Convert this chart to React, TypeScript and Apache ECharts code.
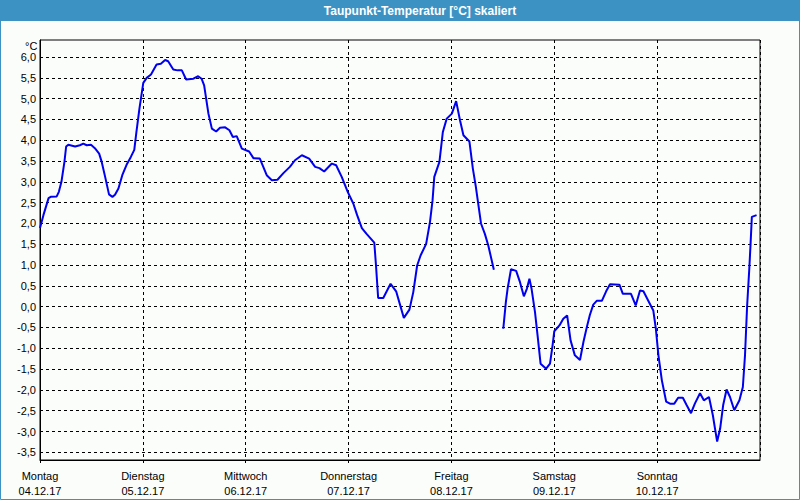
import React, { useEffect, useRef } from "react";
import * as echarts from "echarts";

// hours since Monday 04.12.17 00:00
const hours = [
  0, 0.8, 2, 2.5, 3.9, 4.4, 5, 5.7, 6.1, 6.6,
  8.2, 9.3, 10.1, 10.9, 11.9, 12.8, 13.8, 14.4, 15.2, 16.1,
  16.9, 17.5, 18.3, 19.2, 20.2, 21.2, 22, 22.5, 23.2, 24.1,
  24.9, 25.9, 27.2, 28.2, 29.2, 29.9, 31.1, 32.1, 33.1, 34.1,
  35.8, 36.9, 37.7, 38.3, 39.3, 40.1, 41.1, 42, 43.2, 44.2,
  45, 45.9, 47.1, 48.8, 49.8, 51.3, 52.9, 54.1, 55.4, 56.8,
  58.3, 59.5, 61.1, 62.8, 64.2, 65.2, 66.3, 68.1, 69.1, 70.4,
  71.8, 73.1, 74, 75.1, 76.2, 78, 78.4, 78.9, 80.1, 80.9,
  81.8, 83.1, 84, 84.9, 86.2, 87.1, 88, 88.8, 90.1, 91,
  91.6, 92, 93.2, 94, 94.9, 96.1, 97.1, 98, 98.8, 100.2,
  101, 101.7, 102.9, 103.8, 104.6, 105.9, 107, 108.1, 108.7, 109.1,
  109.9, 111.1, 112, 112.9, 113.6, 114.2, 114.7, 115.5, 116.1, 116.8,
  118.1, 119, 119.6, 120, 121.2, 122.1, 123, 123.8, 124.8, 126,
  126.8, 127.6, 128.3, 129.1, 129.9, 131.1, 132.1, 133, 135.2, 136,
  137.9, 139, 140, 140.8, 141.9, 143.1, 143.7, 144.3, 145.1, 146.1,
  147, 148, 148.9, 150, 150.9, 151.9, 152.8, 154, 154.9, 156.1,
  157, 157.5, 158, 158.7, 159.4, 160.2, 161, 162, 163.2, 164,
  164.5, 165, 165.5, 165.8, 166.1, 167.2,
];

// dew point temperature in °C (null = missing reading)
const dewPoint: (number | null)[] = [
  1.89, 2.2, 2.61, 2.64, 2.65, 2.76, 3.0, 3.48, 3.85, 3.89,
  3.85, 3.88, 3.92, 3.88, 3.89, 3.81, 3.68, 3.48, 3.12, 2.7,
  2.64, 2.69, 2.84, 3.16, 3.41, 3.6, 3.77, 4.2, 4.76, 5.38,
  5.5, 5.58, 5.82, 5.84, 5.93, 5.9, 5.7, 5.68, 5.68, 5.46,
  5.48, 5.54, 5.48, 5.32, 4.64, 4.28, 4.21, 4.3, 4.31, 4.24,
  4.08, 4.1, 3.8, 3.73, 3.57, 3.56, 3.16, 3.04, 3.05, 3.21,
  3.36, 3.52, 3.64, 3.56, 3.36, 3.33, 3.25, 3.44, 3.4, 3.12,
  2.76, 2.48, 2.2, 1.89, 1.75, 1.54, 0.99, 0.21, 0.21, 0.37,
  0.55, 0.37, 0.05, -0.27, -0.07, 0.35, 0.99, 1.23, 1.51, 2.04,
  2.56, 3.12, 3.48, 4.2, 4.52, 4.64, 4.94, 4.48, 4.12, 3.97,
  3.32, 2.88, 2.0, 1.75, 1.47, 0.89, null, -0.53, 0.11, 0.43,
  0.9, 0.86, 0.59, 0.25, 0.43, 0.67, 0.43, -0.13, -0.69, -1.37,
  -1.49, -1.37, -0.93, -0.59, -0.45, -0.29, -0.21, -0.81, -1.17, -1.28,
  -0.85, -0.49, -0.2, 0.05, 0.14, 0.14, 0.37, 0.54, 0.53, 0.31,
  0.31, 0.03, 0.39, 0.37, 0.15, -0.09, -0.53, -1.17, -1.77, -2.28,
  -2.33, -2.33, -2.19, -2.19, -2.37, -2.56, -2.33, -2.08, -2.25, -2.17,
  -2.61, -2.93, -3.24, -2.93, -2.37, -1.99, -2.17, -2.49, -2.25, -1.93,
  -1.17, 0.03, 0.91, 1.51, 2.16, 2.2,
];

const dayNames = ["Montag", "Dienstag", "Mittwoch", "Donnerstag", "Freitag", "Samstag", "Sonntag"];
const dayDates = ["04.12.17", "05.12.17", "06.12.17", "07.12.17", "08.12.17", "09.12.17", "10.12.17"];
const yTicks = [-3.5, -3, -2.5, -2, -1.5, -1, -0.5, 0, 0.5, 1, 1.5, 2, 2.5, 3, 3.5, 4, 4.5, 5, 5.5, 6];

const TITLE = "Taupunkt-Temperatur [°C] skaliert";
const BLUE = "#3d92c4";
const FONT = "'Liberation Sans', Arial, sans-serif";

export default function App() {
  const ref = useRef<HTMLDivElement>(null);
  useEffect(() => {
    if (!ref.current) return;
    const chart = echarts.init(ref.current, null, { renderer: "svg" });
    const data = hours.map((h, i) => [h, dewPoint[i] === null ? "-" : dewPoint[i]]);
    chart.setOption({
      animation: false,
      backgroundColor: "#fbfdfb",
      textStyle: { fontFamily: FONT },
      grid: {
        left: 40,
        top: 40,
        width: 720,
        height: 420,
        show: true,
        borderColor: "#000",
        borderWidth: 1,
        backgroundColor: "transparent",
      },
      xAxis: {
        type: "value",
        min: 0,
        max: 168,
        interval: 24,
        axisLine: { show: true, onZero: false, lineStyle: { color: "#000", width: 1 } },
        axisTick: { show: true, length: 3, lineStyle: { color: "#000", type: [3, 3] } },
        splitLine: { show: true, lineStyle: { color: "#000", type: [3, 3], width: 1 } },
        axisLabel: {
          show: true,
          margin: 8,
          color: "#000",
          fontSize: 11,
          fontFamily: FONT,
          lineHeight: 15,
          showMaxLabel: false,
          formatter: (v: number) => {
            const d = Math.round(v / 24);
            if (d < 0 || d >= dayNames.length) return "";
            return dayNames[d] + "\n" + dayDates[d];
          },
        },
      },
      yAxis: {
        type: "value",
        min: -3.685,
        max: 6.41,
        axisLine: { show: true, onZero: false, lineStyle: { color: "#000", width: 1 } },
        axisTick: { show: false, customValues: yTicks },
        splitLine: { show: true, lineStyle: { color: "#000", type: [3, 3], width: 1 } },
        axisLabel: {
          show: true,
          customValues: yTicks,
          margin: 4,
          color: "#000",
          fontSize: 11,
          fontFamily: FONT,
          formatter: (v: number) => v.toFixed(1).replace(".", ","),
        },
      },
      graphic: [
        {
          type: "rect",
          shape: { x: 0, y: 0, width: 800, height: 21 },
          style: { fill: BLUE },
          z: 10,
        },
        {
          type: "rect",
          shape: { x: 0.5, y: 0.5, width: 799, height: 499 },
          style: { fill: "none", stroke: BLUE, lineWidth: 1 },
          z: 10,
        },
        {
          type: "text",
          x: 420,
          y: 11,
          style: {
            text: TITLE,
            fill: "#fff",
            font: `bold 12px ${FONT}`,
            textAlign: "center",
            textVerticalAlign: "middle",
          },
          z: 11,
        },
        {
          type: "text",
          x: 25,
          y: 40,
          style: {
            text: "°C",
            fill: "#000",
            font: `11px ${FONT}`,
            textAlign: "left",
            textVerticalAlign: "top",
          },
          z: 11,
        },
      ],
      series: [
        {
          type: "line",
          data,
          showSymbol: false,
          connectNulls: false,
          lineStyle: { color: "#0000ee", width: 2 },
          itemStyle: { color: "#0000ee" },
          clip: true,
        },
      ],
    });
    return () => chart.dispose();
  }, []);
  return (
    <div
      ref={ref}
      style={{ position: "fixed", left: 0, top: 0, width: 800, height: 500 }}
    />
  );
}
